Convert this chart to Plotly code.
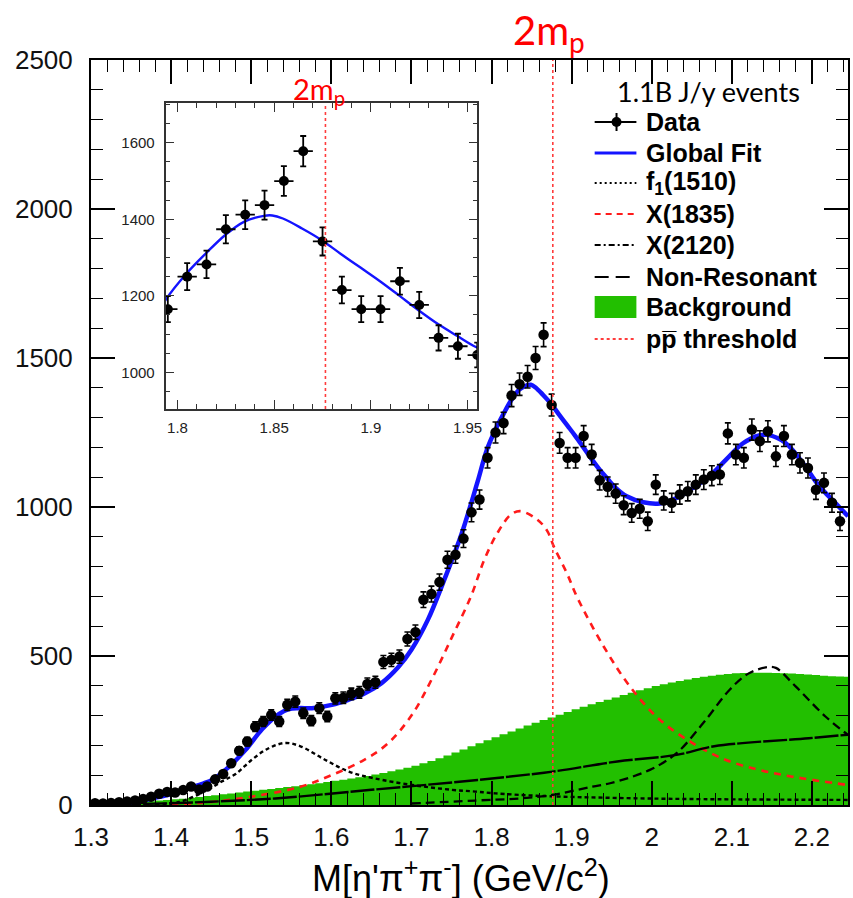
import numpy as np
import plotly.graph_objects as go

# ---------------- data ----------------
# 10 MeV bins of M(eta' pi+ pi-), bin centres in GeV/c^2
bin_centers = np.round(np.arange(1.305, 2.2351, 0.01), 3)
bkg_centers = np.round(np.arange(1.305, 2.2451, 0.01), 3)

# observed events per bin
events = [
    6, 5, 7, 9, 12, 15, 20, 28, 38, 44,
    42, 50, 62, 52, 62, 86, 104, 140, 182, 213,
    263, 280, 302, 280, 336, 347, 308, 283, 325, 297,
    358, 360, 373, 378, 406, 412, 480, 487, 498, 557,
    580, 689, 708, 748, 823, 840, 894, 982, 1025, 1165,
    1250, 1282, 1374, 1412, 1437, 1500, 1578, 1342, 1215, 1165,
    1165, 1238, 1176, 1090, 1068, 1045, 1006, 980, 994, 952,
    1075, 1022, 1014, 1042, 1053, 1075, 1092, 1105, 1109, 1247,
    1176, 1165, 1260, 1221, 1254, 1170, 1238, 1176, 1148, 1131,
    1058, 1081, 1014, 952,
]

# background histogram (10 MeV bins up to the right edge)
background = [
    3, 4, 5, 6, 8, 9, 11, 13, 15, 17,
    19, 21, 24, 27, 30, 33, 36, 39, 42, 45,
    48, 51, 54, 57, 60, 63, 66, 70, 73, 77,
    81, 85, 89, 93, 97, 102, 107, 113, 119, 125,
    132, 140, 148, 157, 166, 176, 186, 197, 207, 217,
    227, 237, 247, 257, 267, 276, 285, 294, 303, 312,
    321, 330, 338, 346, 353, 361, 369, 377, 385, 392,
    399, 405, 411, 416, 421, 426, 430, 434, 437, 440,
    442, 443, 444, 444, 444, 443, 442, 441, 440, 438,
    436, 434, 432, 431, 430,
]

# global fit
fit_x = [1.30, 1.33, 1.36, 1.38, 1.40, 1.42, 1.44, 1.4517, 1.4725, 1.493,
         1.5138, 1.5345, 1.547, 1.56, 1.5758, 1.6006, 1.6213, 1.642, 1.6627, 1.6834,
         1.70, 1.7206, 1.7413, 1.762, 1.7826, 1.7938, 1.8048, 1.8147, 1.8247, 1.8346,
         1.8447, 1.849, 1.8545, 1.8644, 1.8744, 1.8843, 1.8948, 1.9047, 1.9145, 1.9244,
         1.9347, 1.945, 1.9543, 1.9687, 1.9894, 2.010, 2.0308, 2.0515, 2.072, 2.0928,
         2.1135, 2.134, 2.145, 2.167, 2.188, 2.2085, 2.229, 2.245]
fit_y = [2, 5, 13, 24, 37, 55, 72, 85, 129, 185,
         255, 305, 322, 325, 325, 336, 353, 375, 409, 462,
         521, 622, 758, 905, 1085, 1189, 1259, 1311, 1359, 1394,
         1409, 1410, 1402, 1376, 1346, 1310, 1273, 1238, 1201, 1163,
         1126, 1094, 1066, 1036, 1016, 1012, 1030, 1064, 1103, 1159,
         1213, 1240, 1242, 1215, 1150, 1072, 1014, 969]

# f1(1510) component
f1_x = [1.38, 1.41, 1.4435, 1.464, 1.481, 1.50, 1.52, 1.542, 1.5615, 1.592,
        1.622, 1.6527, 1.701, 1.75, 1.78, 1.805, 1.866, 1.95, 2.05, 2.245]
f1_y = [3, 10, 48, 80, 105, 150, 188, 208, 197, 152,
        112, 90, 67, 51, 45, 39, 30, 24, 20, 17]

# X(1835) component
x1835_x = [1.40, 1.45, 1.50, 1.56, 1.60, 1.64, 1.67, 1.70, 1.725, 1.75,
           1.7743, 1.791, 1.8074, 1.824, 1.836, 1.857, 1.8695, 1.8778, 1.894, 1.908,
           1.94, 1.9727, 2.01, 2.0515, 2.0928, 2.134, 2.1755, 2.245]
x1835_y = [2, 10, 28, 60, 100, 150, 205, 300, 420, 560,
           700, 823, 913, 974, 986, 958, 920, 867, 778, 691,
           532, 398, 286, 207, 151, 118, 95, 67]

# X(2120) component
x2120_x = [1.70, 1.78, 1.835, 1.876, 1.926, 1.948, 1.9977, 2.031, 2.064, 2.097,
           2.12, 2.1445, 2.155, 2.1796, 2.2168, 2.245]
x2120_y = [5, 15, 22, 34, 62, 73, 118, 174, 274, 386,
           440, 463, 460, 398, 297, 235]

# non-resonant eta' pi+ pi-
nonres_x = [1.30, 1.40, 1.45, 1.53, 1.65, 1.7826, 1.876, 1.957, 2.031, 2.078, 2.196, 2.245]
nonres_y = [0, 6, 11, 22, 51, 84, 112, 146, 168, 197, 224, 236]

# p pbar threshold, 2 m_p
threshold = 1.8765

# inset window
inset_lo, inset_hi = 1.79, 1.96

# ---------------- geometry helpers ----------------
W, H = 853, 898
ML, MR, MT, MB = 91, 0, 60, 93
PW, PH = W - ML - MR, H - MT - MB


def fx(p):
    return (p - ML) / PW


def fy(p):
    return (H - MB - p) / PH


FONT = "Liberation Sans, Arial, Helvetica, sans-serif"
TEXT_FONT = "Lato, Open Sans, sans-serif"
GREEN = "#22bf00"
BLUE = "#1414ff"
RED = "#ff1a1a"

fig = go.Figure()

# background histogram as a filled step outline
fig.add_trace(go.Scatter(
    x=bkg_centers, y=background, mode="lines", line_shape="hvh",
    line=dict(color=GREEN, width=0), fill="tozeroy", fillcolor=GREEN,
    showlegend=False,
))

# fit components
fig.add_trace(go.Scatter(x=f1_x, y=f1_y, mode="lines", line_shape="spline",
                         line=dict(color="black", width=2.4, dash="4px,3px"),
                         showlegend=False))
fig.add_trace(go.Scatter(x=x1835_x, y=x1835_y, mode="lines", line_shape="spline",
                         line=dict(color=RED, width=2.6, dash="7px,6px"),
                         showlegend=False))
fig.add_trace(go.Scatter(x=x2120_x, y=x2120_y, mode="lines", line_shape="spline",
                         line=dict(color="black", width=2.3, dash="9px,5px"),
                         showlegend=False))
fig.add_trace(go.Scatter(x=nonres_x, y=nonres_y, mode="lines", line_shape="spline",
                         line=dict(color="black", width=2.4, dash="24px,2px"),
                         showlegend=False))

# global fit
fig.add_trace(go.Scatter(x=fit_x, y=fit_y, mode="lines", line_shape="spline",
                         line=dict(color=BLUE, width=4.5), showlegend=False))

# data
err = np.sqrt(np.array(events, dtype=float))
fig.add_trace(go.Scatter(
    x=bin_centers, y=events, mode="markers",
    marker=dict(color="black", size=10.5),
    error_y=dict(type="data", array=err, color="black", thickness=1.6, width=3),
    error_x=dict(type="constant", value=0.005, color="black", thickness=1.6, width=0),
    showlegend=False,
))

# inset: zoom on the threshold region
sel = (bin_centers >= inset_lo) & (bin_centers <= inset_hi)
ins_x = bin_centers[sel]
ins_y = np.array(events)[sel]
fit_sel = [(a, b) for a, b in zip(fit_x, fit_y) if 1.78 <= a <= 1.97]
fig.add_trace(go.Scatter(x=[a for a, _ in fit_sel], y=[b for _, b in fit_sel],
                         mode="lines", line_shape="spline",
                         line=dict(color=BLUE, width=2.4),
                         xaxis="x2", yaxis="y2", showlegend=False))
fig.add_trace(go.Scatter(
    x=ins_x, y=ins_y, mode="markers",
    marker=dict(color="black", size=10),
    error_y=dict(type="data", array=np.sqrt(ins_y.astype(float)), color="black",
                 thickness=1.8, width=3),
    error_x=dict(type="constant", value=0.005, color="black", thickness=1.8, width=0),
    xaxis="x2", yaxis="y2", showlegend=False,
))

shapes = []
# threshold lines
shapes.append(dict(type="line", xref="x", yref="paper", x0=threshold, x1=threshold,
                   y0=0, y1=1, line=dict(color="rgb(255,60,60)", width=1.6, dash="dot")))
shapes.append(dict(type="line", xref="x2", yref="y2 domain", x0=threshold, x1=threshold,
                   y0=0, y1=1, line=dict(color="rgb(255,60,60)", width=1.6, dash="dot")))

# legend symbols
lx0, lx1 = fx(598), fx(640)
rows = {"data": 122, "fit": 153, "f1": 183, "x1835": 214, "x2120": 245,
        "nonres": 277, "bkg": 307, "thr": 339}


def seg(row, color, width, dash):
    return dict(type="line", xref="paper", yref="paper", x0=lx0, x1=lx1,
                y0=fy(rows[row]), y1=fy(rows[row]),
                line=dict(color=color, width=width, dash=dash))


shapes.append(seg("data", "black", 2, "solid"))
shapes.append(dict(type="line", xref="paper", yref="paper", x0=fx(620), x1=fx(620),
                   y0=fy(rows["data"] - 9), y1=fy(rows["data"] + 9),
                   line=dict(color="black", width=2)))
shapes.append(dict(type="circle", xref="paper", yref="paper", x0=fx(615), x1=fx(625),
                   y0=fy(rows["data"] + 5), y1=fy(rows["data"] - 5),
                   fillcolor="black", line=dict(color="black", width=0)))
shapes.append(seg("fit", BLUE, 3, "solid"))
shapes.append(seg("f1", "black", 2, "2px,3px"))
shapes.append(seg("x1835", RED, 2, "6px,5px"))
shapes.append(seg("x2120", "black", 2, "6px,3px,2px,3px"))
shapes.append(seg("nonres", "black", 2, "14px,7px"))
shapes.append(dict(type="rect", xref="paper", yref="paper", x0=lx0, x1=lx1,
                   y0=fy(rows["bkg"] + 11), y1=fy(rows["bkg"] - 11),
                   fillcolor=GREEN, line=dict(width=0)))
shapes.append(seg("thr", "rgb(255,60,60)", 2, "dot"))

annotations = []
legend_text = {
    "data": "Data",
    "fit": "Global Fit",
    "f1": "f<sub>1</sub>(1510)",
    "x1835": "X(1835)",
    "x2120": "X(2120)",
    "nonres": "Non-Resonant",
    "bkg": "Background",
    "thr": "pp\u0305 threshold",
}
for key, txt in legend_text.items():
    annotations.append(dict(text="<b>" + txt + "</b>", xref="paper", yref="paper",
                            x=fx(648), y=fy(rows[key]), xanchor="left", yanchor="middle",
                            showarrow=False, font=dict(family=FONT, size=25, color="black")))

annotations.append(dict(text="1.1B J/y events", xref="paper", yref="paper",
                        x=fx(618), y=fy(91), xanchor="left", yanchor="middle",
                        showarrow=False, font=dict(family=TEXT_FONT, size=27, color="black")))
annotations.append(dict(text="2m<sub>p</sub>", xref="paper", yref="paper",
                        x=fx(552), y=fy(33), xanchor="center", yanchor="middle",
                        showarrow=False, font=dict(family=TEXT_FONT, size=40, color="#ff0000")))
annotations.append(dict(text="2m<sub>p</sub>", xref="paper", yref="paper",
                        x=fx(321), y=fy(90), xanchor="center", yanchor="middle",
                        showarrow=False, font=dict(family=TEXT_FONT, size=29, color="#ff0000")))
annotations.append(dict(text="M[\u03b7'\u03c0<sup>+</sup>\u03c0<sup>-</sup>] (GeV/c<sup>2</sup>)",
                        xref="paper", yref="paper", x=fx(463), y=fy(876),
                        xanchor="center", yanchor="middle", showarrow=False,
                        font=dict(family=FONT, size=36, color="black")))

main_axis = dict(showline=True, linewidth=2, linecolor="black", mirror="allticks",
                 ticks="inside", ticklen=24, tickwidth=1.5, tickcolor="black",
                 showgrid=False, zeroline=False,
                 tickfont=dict(family=FONT, size=26, color="#111111"))
inset_axis = dict(showline=True, linewidth=1.6, linecolor="#333333", mirror="allticks",
                  ticks="inside", ticklen=9, tickwidth=1.2, tickcolor="#333333",
                  showgrid=False, zeroline=False,
                  tickfont=dict(family=FONT, size=15, color="#222222"))

fig.update_layout(
    width=W, height=H,
    margin=dict(l=ML, r=MR, t=MT, b=MB, pad=0),
    paper_bgcolor="white", plot_bgcolor="rgba(0,0,0,0)",
    showlegend=False,
    xaxis=dict(range=[1.3, 2.245], domain=[0, 1], anchor="y", dtick=0.1, tick0=1.3,
               minor=dict(dtick=0.02, tick0=1.3, ticklen=12, tickwidth=1.2,
                          ticks="inside", tickcolor="black"),
               ticklabelstandoff=8, **main_axis),
    yaxis=dict(range=[0, 2500], domain=[0, 1], anchor="x", dtick=500, tick0=0,
               minor=dict(dtick=100, tick0=0, ticklen=12, tickwidth=1.2,
                          ticks="inside", tickcolor="black"),
               ticklabelstandoff=11, **main_axis),
    xaxis2=dict(range=[1.7938, 1.9551], domain=[fx(166), fx(480)], anchor="y2",
                dtick=0.05, tick0=1.8,
                minor=dict(dtick=0.01, tick0=1.8, ticklen=5, tickwidth=1,
                           ticks="inside", tickcolor="#333333"),
                ticklabelstandoff=4, **inset_axis),
    yaxis2=dict(range=[904, 1704], domain=[fy(409), fy(103)], anchor="x2",
                dtick=200, tick0=1000,
                minor=dict(dtick=50, tick0=1000, ticklen=5, tickwidth=1,
                           ticks="inside", tickcolor="#333333"),
                ticklabelstandoff=6, **inset_axis),
    shapes=shapes,
    annotations=annotations,
)

fig.write_html("out.html")
